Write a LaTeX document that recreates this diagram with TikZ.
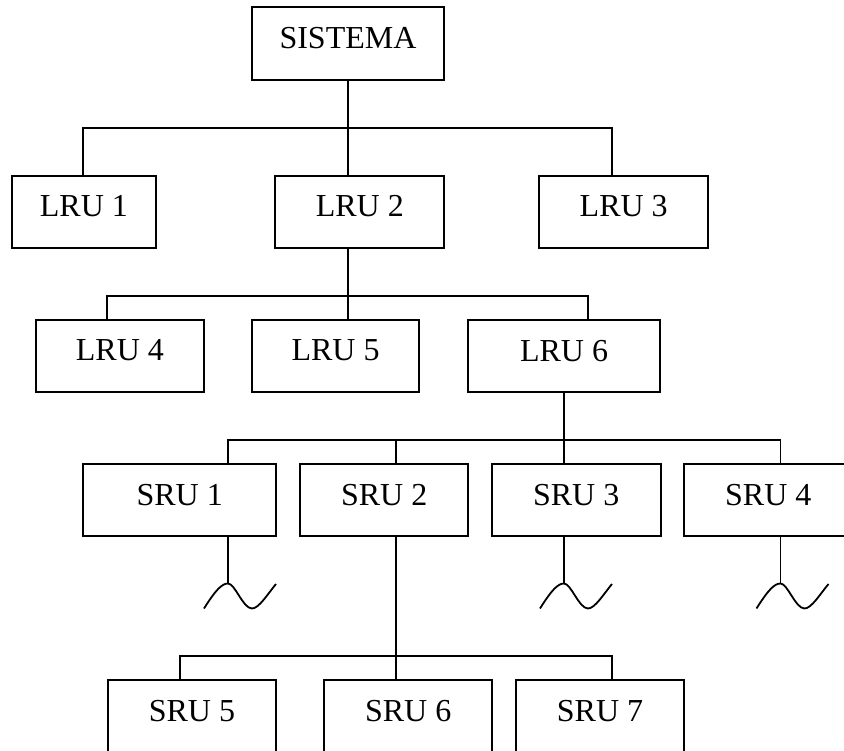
\documentclass[tikz,border=0pt]{standalone}
\usepackage{fontspec}
\setmainfont{Liberation Serif}
\begin{document}
\begin{tikzpicture}[x=1pt,y=-1pt,line width=1.8pt,
  unit/.style={draw,rectangle,inner sep=0pt,text depth=11pt,
    minimum height=72pt,font=\fontsize{32}{38}\selectfont},
  pics/wave/.style={code={
    \draw (-24,25) .. controls (-12,6) and (-6,0) .. (0,0)
      .. controls (7,0) and (15,25) .. (24,25)
      .. controls (31,25) and (40,10) .. (48,0.5);}}]
\useasboundingbox (0,0) rectangle (844,751);
\clip (0,0) rectangle (844,751);

% system
\node[unit,minimum width=192.6pt,minimum height=72.7pt] (sis) at (348,43.7) {SISTEMA};

% line replaceable units
\node[unit,minimum width=144.3pt] (lru1) at (83.9,211.9) {LRU 1};
\node[unit,minimum width=169pt]   (lru2) at (359.8,211.9) {LRU 2};
\node[unit,minimum width=168.7pt] (lru3) at (623.7,211.9) {LRU 3};
\node[unit,minimum width=168.3pt] (lru4) at (119.9,355.9) {LRU 4};
\node[unit,minimum width=167.6pt] (lru5) at (335.5,355.9) {LRU 5};
\node[unit,minimum width=192.6pt] (lru6) at (564,356) {LRU 6};

% shop replaceable units
\node[unit,minimum width=192.7pt] (sru1) at (179.7,500) {SRU 1};
\node[unit,minimum width=168.3pt] (sru2) at (384.2,500) {SRU 2};
\node[unit,minimum width=169pt]   (sru3) at (576.2,500) {SRU 3};
\node[unit,minimum width=168.7pt] (sru4) at (768.3,500) {SRU 4};
\node[unit,minimum width=168.3pt] (sru5) at (191.9,716) {SRU 5};
\node[unit,minimum width=168.3pt] (sru6) at (408.2,716) {SRU 6};
\node[unit,minimum width=168pt]   (sru7) at (600,716) {SRU 7};

% bus under SISTEMA
\coordinate (a1) at (83.3,128.3);
\coordinate (am) at (347.7,128.3);
\coordinate (a3) at (612,128.3);
\draw (sis.south -| am) -- (lru2.north -| am);
\draw (lru1.north -| a1) |- (a3) -- (lru3.north -| a3);

% bus under LRU 2
\coordinate (c1) at (107.3,296);
\coordinate (cm) at (347.7,296);
\coordinate (c3) at (588.3,296);
\draw (lru2.south -| cm) -- (lru5.north -| cm);
\draw (lru4.north -| c1) |- (c3) -- (lru6.north -| c3);

% bus under LRU 6
\coordinate (d1) at (228,440);
\coordinate (d2) at (396,440);
\coordinate (dm) at (564,440);
\coordinate (d4) at (780.5,440);
\draw (lru6.south -| dm) -- (sru3.north -| dm);
\draw (sru1.north -| d1) |- (d4) -- (sru4.north -| d4);
\draw (d2) -- (sru2.north -| d2);

% bus under SRU 2
\coordinate (e1) at (180,656);
\coordinate (em) at (396,656);
\coordinate (e3) at (612.3,656);
\draw (sru2.south -| em) -- (sru6.north -| em);
\draw (sru5.north -| e1) |- (e3) -- (sru7.north -| e3);

% open-ended branches
\coordinate (p1) at (228,583.5);
\coordinate (p3) at (564,583.5);
\coordinate (p4) at (780.5,583.5);
\draw (sru1.south -| p1) -- (p1);
\draw (sru3.south -| p3) -- (p3);
\draw (sru4.south -| p4) -- (p4);
\pic at (p1) {wave};
\pic at (p3) {wave};
\pic at (p4) {wave};
\end{tikzpicture}
\end{document}
